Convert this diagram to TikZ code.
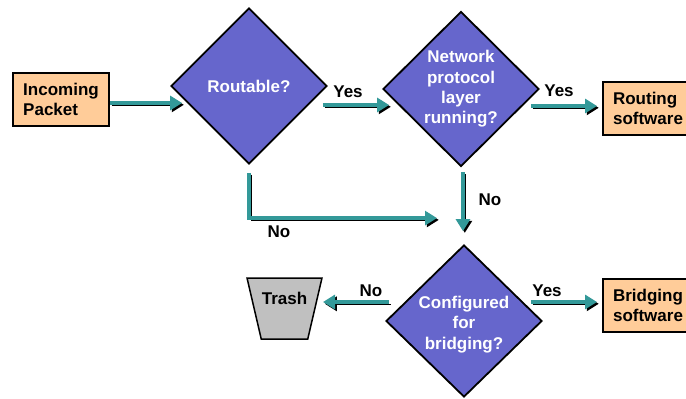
\documentclass[tikz,border=0pt]{standalone}
\usepackage{fontspec}
\setmainfont{Liberation Sans}
\usetikzlibrary{shapes.geometric}
\usetikzlibrary{arrows.meta}
\definecolor{decfill}{HTML}{6666CC}
\definecolor{swfill}{HTML}{FFCC99}
\definecolor{flowc}{HTML}{339999}
\definecolor{binfill}{HTML}{C0C0C0}
\tikzset{dec/.style={diamond,draw=black,line width=1.8pt,fill=decfill,text=white,
  inner sep=0pt,minimum width=156pt,minimum height=156pt,align=center}}
\tikzset{sbox/.style={rectangle,draw=black,line width=2pt,fill=swfill,
  minimum width=96pt,minimum height=53pt,inner sep=0pt,align=left}}
\tikzset{flow/.style={line width=3.8pt,draw=flowc,-{Triangle[length=12pt,width=14pt]},
  preaction={draw=black,transform canvas={shift={(1.8pt,-1.8pt)}}}}}

\begin{document}
\begin{tikzpicture}[x=1pt,y=-1pt,font=\fontsize{17}{20.3}\selectfont\bfseries]
\useasboundingbox (0,0) rectangle (686,399);

\node[sbox] at (61,99.5) (inbox) {Incoming\\Packet};
\node[dec] at (249,86) (routable) {Routable?};
\node[dec,minimum height=155pt] at (461,89) (netlayer) {Network\\protocol\\layer\\running?};
\node[sbox,minimum width=90pt] at (648,108.5) (routing) {Routing\\software};
\node[dec,minimum height=152pt] at (464,321) (config) {};
\node[text=white,align=center] at (464,324.5) (configtxt) {Configured\\for\\bridging?};
\node[sbox,minimum width=90pt] at (648,305.5) (bridging) {Bridging\\software};

% the bin, with its word set near the rim
\node[trapezium,trapezium left angle=73,trapezium right angle=73,shape border rotate=180,
  trapezium stretches=true,minimum width=75pt,minimum height=61pt,
  draw=black,line width=1.5pt,fill=binfill] at (284.5,308.5) (trash) {};
\node at (284.5,298) (trashtxt) {Trash};

\draw[flow] ([shift={(0,3.5)}]inbox.east) -- ([shift={(12,17)}]routable.west);
\draw[flow] ([shift={(-5,19)}]routable.east) -- ([shift={(7,16)}]netlayer.west);
\draw[flow] ([shift={(-9,17)}]netlayer.east) -- ([shift={(-5,-2.5)}]routing.west);
\draw[flow] ([shift={(2,5)}]netlayer.south) -- ([shift={(-1,-13)}]config.north);
\draw[flow] ([shift={(0,8)}]routable.south) |- ([shift={(-27,-26)}]config.north);
\draw[flow] ([shift={(4,-19)}]config.west) -- ([shift={(38.5,-6.5)}]trash.center);
\draw[flow] ([shift={(-12,-19)}]config.east) -- ([shift={(-5,-3.5)}]bridging.west);

\node at (348,92) (yes1) {Yes};
\node at (559,91) (yes2) {Yes};
\node at (490,200) (no1) {No};
\node at (279,232) (no2) {No};
\node at (371,291) (no3) {No};
\node at (547,291) (yes3) {Yes};

\end{tikzpicture}
\end{document}
